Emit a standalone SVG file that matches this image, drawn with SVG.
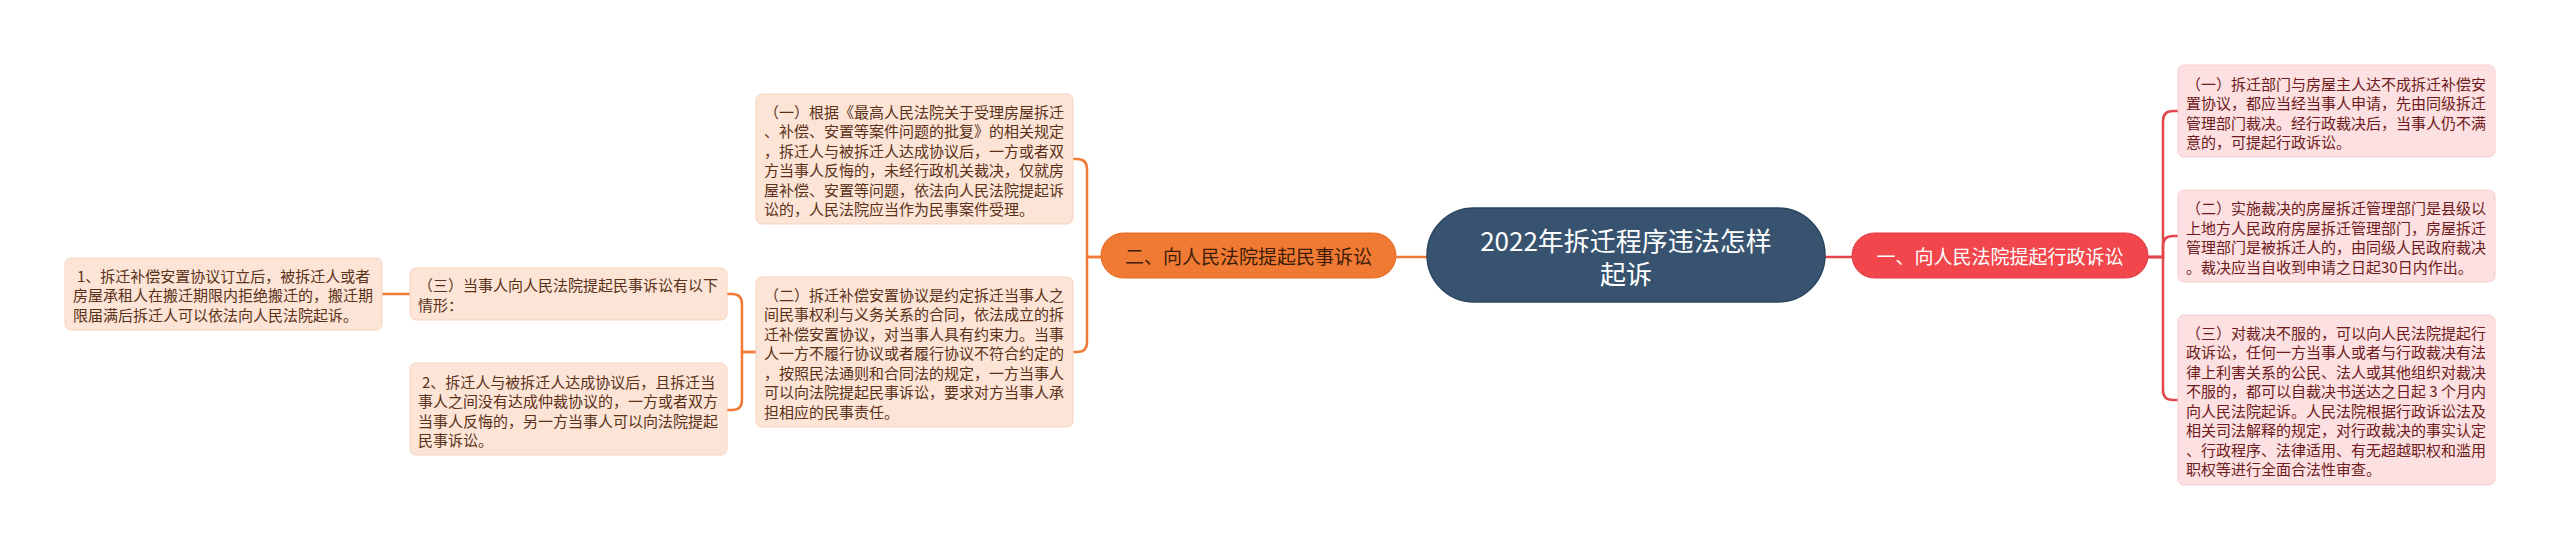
<svg xmlns="http://www.w3.org/2000/svg" width="2560" height="551" viewBox="0 0 2560 551">
<style>
.leafL{fill:#fce4d6;stroke:#f7d3bf;stroke-width:1}
.leafR{fill:#fde0e1;stroke:#f8cdd0;stroke-width:1}
.tL{font-family:"Noto Sans CJK SC","Noto Sans",sans-serif;font-size:15px;fill:#5b3219}
.tR{font-family:"Noto Sans CJK SC","Noto Sans",sans-serif;font-size:15px;fill:#6e1b20}
.cL{fill:none;stroke:#ef7b36;stroke-width:2.5}
.cR{fill:none;stroke:#e2474c;stroke-width:2.5}
</style>
<rect width="2560" height="551" fill="#ffffff"/>
<g id="connectors">
<path class="cR" d="M1825 257 H1852"/>
<path class="cL" d="M1427 257 H1396"/>
<path class="cR" d="M2148 257 H2163 V121 Q2163 111 2173 111 H2178"/>
<path class="cR" d="M2148 257 H2163 V246 Q2163 236 2173 236 H2178"/>
<path class="cR" d="M2148 257 H2163 V390 Q2163 400 2173 400 H2178"/>
<path class="cL" d="M1101 257 H1087 V169 Q1087 159 1077 159 H1073"/>
<path class="cL" d="M1101 257 H1087 V342 Q1087 352 1077 352 H1073"/>
<path class="cL" d="M756 352 H742 V304 Q742 294 732 294 H727"/>
<path class="cL" d="M756 352 H742 V400 Q742 410 732 410 H727"/>
<path class="cL" d="M410 294 H382"/>
</g>
<g id="root">
<rect x="1427" y="208" width="398" height="94" rx="47" fill="#37536f" stroke="#2b4560" stroke-width="1.5"/>
<text x="1626" y="251" text-anchor="middle" font-family="Noto Sans CJK SC,Noto Sans,sans-serif" font-size="26" fill="#ffffff">2022年拆迁程序违法怎样</text>
<text x="1626" y="284" text-anchor="middle" font-family="Noto Sans CJK SC,Noto Sans,sans-serif" font-size="26" fill="#ffffff">起诉</text>
</g>
<g id="branch-right">
<rect x="1852" y="233" width="296" height="45" rx="22.5" fill="#f1474c" stroke="#e03a40" stroke-width="1"/>
<text x="2000" y="264" text-anchor="middle" font-family="Noto Sans CJK SC,Noto Sans,sans-serif" font-size="19" fill="#ffffff">一、向人民法院提起行政诉讼</text>
</g>
<g id="branch-left">
<rect x="1101" y="233" width="295" height="45" rx="22.5" fill="#f07a33" stroke="#e46a22" stroke-width="1"/>
<text x="1248.5" y="264" text-anchor="middle" font-family="Noto Sans CJK SC,Noto Sans,sans-serif" font-size="19" fill="#3d1d08">二、向人民法院提起民事诉讼</text>
</g>
<g id="left-1">
<rect class="leafL" x="756" y="94" width="317" height="130" rx="6"/>
<text class="tL" x="764" y="117.5"><tspan x="764">（一）根据《最高人民法院关于受理房屋拆迁</tspan><tspan x="764" dy="19.5">、补偿、安置等案件问题的批复》的相关规定</tspan><tspan x="764" dy="19.5">，拆迁人与被拆迁人达成协议后，一方或者双</tspan><tspan x="764" dy="19.5">方当事人反悔的，未经行政机关裁决，仅就房</tspan><tspan x="764" dy="19.5">屋补偿、安置等问题，依法向人民法院提起诉</tspan><tspan x="764" dy="19.5">讼的，人民法院应当作为民事案件受理。</tspan></text>
</g>
<g id="left-2">
<rect class="leafL" x="756" y="277" width="317" height="150" rx="6"/>
<text class="tL" x="764" y="300.5"><tspan x="764">（二）拆迁补偿安置协议是约定拆迁当事人之</tspan><tspan x="764" dy="19.5">间民事权利与义务关系的合同，依法成立的拆</tspan><tspan x="764" dy="19.5">迁补偿安置协议，对当事人具有约束力。当事</tspan><tspan x="764" dy="19.5">人一方不履行协议或者履行协议不符合约定的</tspan><tspan x="764" dy="19.5">，按照民法通则和合同法的规定，一方当事人</tspan><tspan x="764" dy="19.5">可以向法院提起民事诉讼，要求对方当事人承</tspan><tspan x="764" dy="19.5">担相应的民事责任。</tspan></text>
</g>
<g id="left-3">
<rect class="leafL" x="410" y="268" width="317" height="52" rx="6"/>
<text class="tL" x="418" y="291"><tspan x="418">（三）当事人向人民法院提起民事诉讼有以下</tspan><tspan x="418" dy="19.5">情形：</tspan></text>
</g>
<g id="left-3-2">
<rect class="leafL" x="410" y="363" width="317" height="92" rx="6"/>
<text class="tL" x="418" y="387.5"><tspan x="422">2、拆迁人与被拆迁人达成协议后，且拆迁当</tspan><tspan x="418" dy="19.5">事人之间没有达成仲裁协议的，一方或者双方</tspan><tspan x="418" dy="19.5">当事人反悔的，另一方当事人可以向法院提起</tspan><tspan x="418" dy="19.5">民事诉讼。</tspan></text>
</g>
<g id="left-3-1">
<rect class="leafL" x="65" y="258" width="317" height="72" rx="6"/>
<text class="tL" x="73" y="281.5"><tspan x="77">1、拆迁补偿安置协议订立后，被拆迁人或者</tspan><tspan x="73" dy="19.5">房屋承租人在搬迁期限内拒绝搬迁的，搬迁期</tspan><tspan x="73" dy="19.5">限届满后拆迁人可以依法向人民法院起诉。</tspan></text>
</g>
<g id="right-1">
<rect class="leafR" x="2178" y="65" width="317" height="92" rx="6"/>
<text class="tR" x="2186" y="89.5"><tspan x="2186">（一）拆迁部门与房屋主人达不成拆迁补偿安</tspan><tspan x="2186" dy="19.5">置协议，都应当经当事人申请，先由同级拆迁</tspan><tspan x="2186" dy="19.5">管理部门裁决。经行政裁决后，当事人仍不满</tspan><tspan x="2186" dy="19.5">意的，可提起行政诉讼。</tspan></text>
</g>
<g id="right-2">
<rect class="leafR" x="2178" y="190" width="317" height="92" rx="6"/>
<text class="tR" x="2186" y="214"><tspan x="2186">（二）实施裁决的房屋拆迁管理部门是县级以</tspan><tspan x="2186" dy="19.5">上地方人民政府房屋拆迁管理部门，房屋拆迁</tspan><tspan x="2186" dy="19.5">管理部门是被拆迁人的，由同级人民政府裁决</tspan><tspan x="2186" dy="19.5">。裁决应当自收到申请之日起30日内作出。</tspan></text>
</g>
<g id="right-3">
<rect class="leafR" x="2178" y="315" width="317" height="170" rx="6"/>
<text class="tR" x="2186" y="338.5"><tspan x="2186">（三）对裁决不服的，可以向人民法院提起行</tspan><tspan x="2186" dy="19.5">政诉讼，任何一方当事人或者与行政裁决有法</tspan><tspan x="2186" dy="19.5">律上利害关系的公民、法人或其他组织对裁决</tspan><tspan x="2186" dy="19.5">不服的，都可以自裁决书送达之日起 3 个月内</tspan><tspan x="2186" dy="19.5">向人民法院起诉。人民法院根据行政诉讼法及</tspan><tspan x="2186" dy="19.5">相关司法解释的规定，对行政裁决的事实认定</tspan><tspan x="2186" dy="19.5">、行政程序、法律适用、有无超越职权和滥用</tspan><tspan x="2186" dy="19.5">职权等进行全面合法性审查。</tspan></text>
</g>
</svg>
